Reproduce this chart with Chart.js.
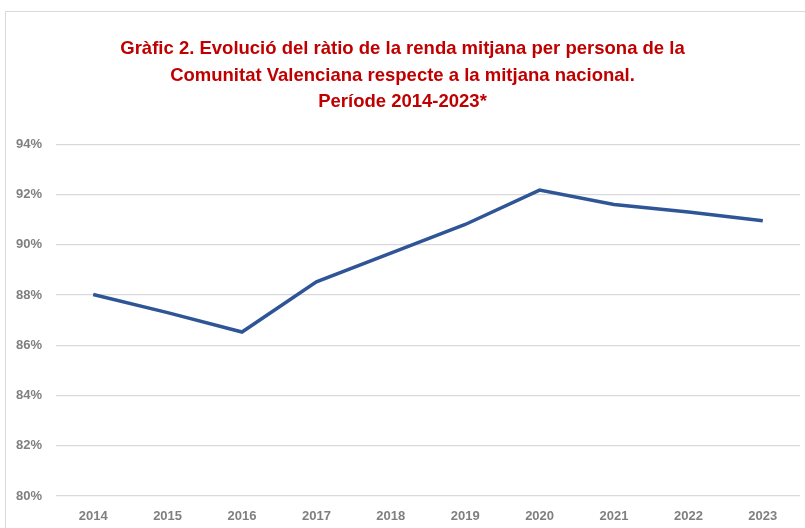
<!DOCTYPE html>
<html>
<head>
<meta charset="utf-8">
<script src="https://cdn.jsdelivr.net/npm/chart.js@4.4.1/dist/chart.umd.min.js"></script>
<style>
  html, body { margin: 0; padding: 0; background: #fff; overflow: hidden; }
  #frame { position: absolute; left: 5px; top: 11px; width: 850px; height: 560px; border: 1px solid #d9d9d9; }
  #chart { position: absolute; left: 0; top: 0; }
</style>
</head>
<body>
<div id="frame"></div>
<canvas id="chart" width="805" height="528"></canvas>
<script>
const years = ['2014', '2015', '2016', '2017', '2018', '2019', '2020', '2021', '2022', '2023'];
const ratio = [88.02, 87.3, 86.53, 88.53, 89.67, 90.81, 92.18, 91.61, 91.31, 90.96];
const titleLines = [
  'Gràfic 2. Evolució del ràtio de la renda mitjana per persona de la',
  'Comunitat Valenciana respecte a la mitjana nacional.',
  'Període 2014-2023*'
];
const yMin = 80, yMax = 94, yStep = 2;

const fontFamily = '"Liberation Sans", Arial, sans-serif';

new Chart(document.getElementById('chart'), {
  type: 'line',
  data: {
    labels: years,
    datasets: [{
      data: ratio,
      borderColor: '#2F5597',
      borderWidth: 3.5,
      pointRadius: 0,
      tension: 0,
      fill: false
    }]
  },
  options: {
    responsive: false,
    animation: false,
    layout: { padding: { left: 5, right: 5, top: 0, bottom: 0 } },
    plugins: {
      legend: { display: false },
      tooltip: { enabled: false },
      title: {
        display: true,
        text: titleLines,
        color: '#C00000',
        font: { family: fontFamily, size: 18.5, weight: 'bold', lineHeight: 1.43 },
        padding: { top: 36, bottom: 29 }
      }
    },
    scales: {
      x: {
        offset: true,
        grid: { display: false, drawTicks: false },
        border: { display: false },
        ticks: {
          color: '#7f7f7f',
          font: { family: fontFamily, size: 13, weight: 'bold' },
          padding: 13,
          maxRotation: 0
        },
        afterFit: s => { s.height = 32; }
      },
      y: {
        min: yMin,
        max: yMax,
        ticks: {
          stepSize: yStep,
          color: '#7f7f7f',
          font: { family: fontFamily, size: 13, weight: 'bold' },
          padding: 14,
          callback: v => v + '%'
        },
        grid: { color: '#d9d9d9', lineWidth: 1.3, drawTicks: false },
        border: { display: false },
        afterFit: s => { s.width = 51; }
      }
    }
  }
});
</script>
</body>
</html>
